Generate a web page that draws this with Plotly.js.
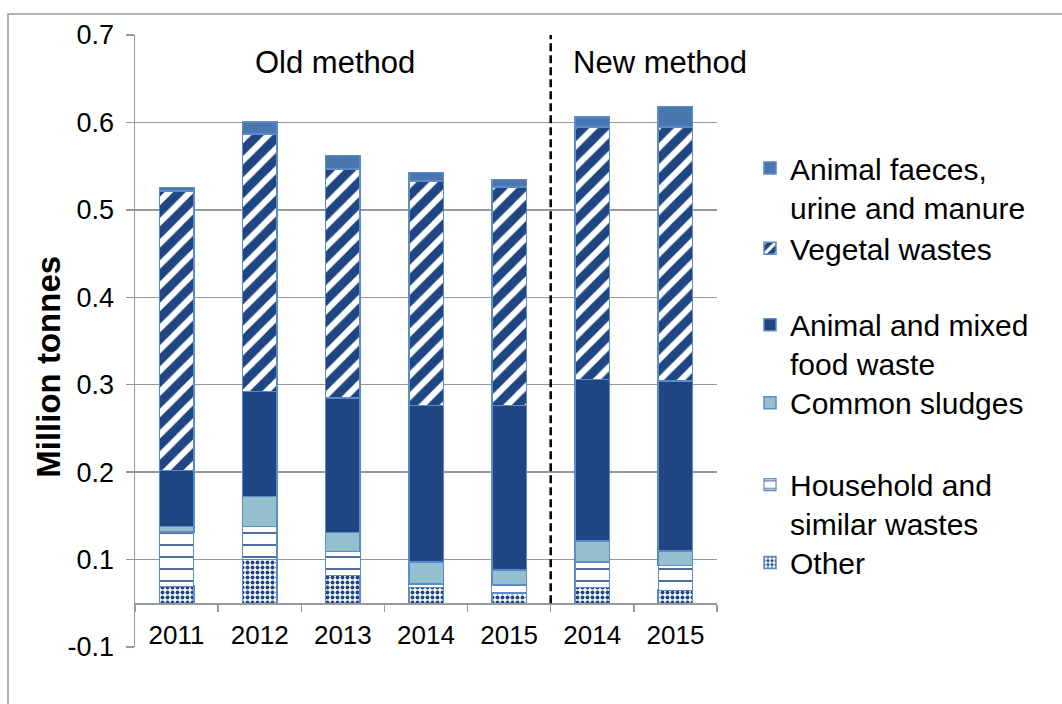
<!DOCTYPE html>
<html>
<head>
<meta charset="utf-8">
<script src="https://cdn.plot.ly/plotly-3.0.1.min.js"></script>
<style>
  html, body { margin: 0; padding: 0; background: #ffffff; }
  #chart { width: 1062px; height: 704px; }
</style>
</head>
<body>
<div id="chart"></div>
<script>
// ---- Data (million tonnes, segment heights from the category axis) ----
const yearLabels = ['2011', '2012', '2013', '2014', '2015', '2014', '2015'];
const methodGroups = ['Old method', 'Old method', 'Old method', 'Old method', 'Old method', 'New method', 'New method'];

const other       = [0.0195, 0.050, 0.032, 0.018, 0.012, 0.018, 0.015];
const household   = [0.062, 0.038, 0.027, 0.004, 0.009, 0.029, 0.028];
const sludges     = [0.0063, 0.034, 0.022, 0.025, 0.017, 0.024, 0.017];
const animalMixed = [0.064, 0.120, 0.154, 0.179, 0.188, 0.185, 0.194];
const vegetal     = [0.320, 0.295, 0.262, 0.257, 0.250, 0.289, 0.291];
const faeces      = [0.004, 0.0135, 0.015, 0.010, 0.009, 0.011, 0.023];

const seriesNames = [
  'Other',
  'Household and<br>similar wastes',
  'Common sludges',
  'Animal and mixed<br>food waste',
  'Vegetal wastes',
  'Animal faeces,<br>urine and manure'
];

const yTickLabels = ['-0.1', '0.1', '0.2', '0.3', '0.4', '0.5', '0.6', '0.7'];
const yTitle = 'Million tonnes';

// ---- Layout helpers ----
const W = 1062, H = 704;
const M = { l: 135, r: 345, t: 35, b: 56.5 };
const plotH = H - M.t - M.b;
const plotW = W - M.l - M.r;
const pyToPaper = py => (H - M.b - py) / plotH;
const pxToPaper = px => (px - M.l) / plotW;

const categories = yearLabels.map((y, i) => methodGroups[i] + ' ' + y);
const yTickVals = yTickLabels.map((_, i) => -0.05 + 0.1 * i);

const NAVY = '#1f4682';
const EDGE = '#5b8bc8';
const FONT = 'Arial, "Liberation Sans", sans-serif';

function barTrace(idx, values, marker, legendId) {
  return {
    type: 'bar',
    name: seriesNames[idx],
    x: categories,
    y: values,
    marker: marker,
    legend: legendId,
    hoverinfo: 'skip'
  };
}

const traces = [
  barTrace(0, other, {
    color: NAVY,
    line: { color: EDGE, width: 1.5 },
    pattern: { shape: '.', size: 5, solidity: 0.5, fgcolor: NAVY, bgcolor: '#ffffff', fillmode: 'replace' }
  }, 'legend6'),
  barTrace(1, household, {
    color: NAVY,
    line: { color: EDGE, width: 1.2 },
    pattern: { shape: '-', size: 12, solidity: 0.13, fgcolor: NAVY, bgcolor: '#ffffff', fillmode: 'replace' }
  }, 'legend5'),
  barTrace(2, sludges, {
    color: '#93bfcf',
    line: { color: EDGE, width: 1.5 }
  }, 'legend4'),
  barTrace(3, animalMixed, {
    color: NAVY,
    line: { color: EDGE, width: 1.5 }
  }, 'legend3'),
  barTrace(4, vegetal, {
    color: NAVY,
    line: { color: EDGE, width: 1.5 },
    pattern: { shape: '/', size: 15, solidity: 0.4, fgcolor: '#ffffff', bgcolor: NAVY, fillmode: 'replace' }
  }, 'legend2'),
  barTrace(5, faeces, {
    color: '#4a77b0',
    line: { color: EDGE, width: 1.5 }
  }, 'legend')
];

// symbol centre targets (px) for each legend item
const legendCentres = { legend: 168, legend2: 248.5, legend3: 325, legend4: 403, legend5: 485, legend6: 563 };
function legendBox(centrePx) {
  return {
    x: pxToPaper(750), xanchor: 'left',
    y: pyToPaper(centrePx - 26), yanchor: 'top',
    bgcolor: 'rgba(0,0,0,0)', borderwidth: 0,
    font: { family: FONT, size: 30, color: '#000' },
    valign: 'top',
    traceorder: 'normal'
  };
}

const layout = {
  width: W, height: H,
  margin: M,
  paper_bgcolor: '#ffffff',
  plot_bgcolor: 'rgba(0,0,0,0)',
  barmode: 'stack',
  bargap: 0.585,
  showlegend: true,
  font: { family: FONT, color: '#000' },
  xaxis: {
    type: 'category',
    categoryorder: 'array',
    categoryarray: categories,
    tickmode: 'array',
    tickvals: categories,
    ticktext: yearLabels,
    range: [-0.5, 6.5],
    anchor: 'free',
    position: pyToPaper(H - M.b - 0.05 * plotH / 0.7),
    showline: true, linecolor: '#999', linewidth: 1.5,
    ticks: 'outside', tickson: 'boundaries', ticklen: 7, tickcolor: '#999', tickwidth: 1.5,
    showgrid: false, zeroline: false,
    ticklabelstandoff: 8,
    tickfont: { family: FONT, size: 26, color: '#000' },
    fixedrange: true
  },
  yaxis: {
    range: [-0.05, 0.65],
    tickmode: 'array',
    tickvals: yTickVals,
    ticktext: yTickLabels,
    showline: true, linecolor: '#999', linewidth: 1.5,
    ticks: 'outside', ticklen: 8, tickcolor: '#999', tickwidth: 1.5,
    showgrid: true, gridcolor: '#999', gridwidth: 1.5,
    zeroline: false,
    ticklabelstandoff: 6,
    tickfont: { family: FONT, size: 27, color: '#000' },
    fixedrange: true
  },
  shapes: [
    { type: 'rect', xref: 'paper', yref: 'paper',
      x0: pxToPaper(8), x1: pxToPaper(1070), y0: pyToPaper(14), y1: pyToPaper(712),
      line: { color: '#9a9a9a', width: 1.5 }, fillcolor: 'rgba(0,0,0,0)', layer: 'below' },
    { type: 'line', xref: 'x', yref: 'y', x0: 4.5, x1: 4.5, y0: 0, y1: 0.65,
      line: { color: '#000', width: 2.5, dash: '8px,4px' } }
  ],
  annotations: [
    { text: 'Old method', xref: 'paper', yref: 'paper', x: pxToPaper(335), y: pyToPaper(63),
      xanchor: 'center', yanchor: 'middle', showarrow: false,
      font: { family: FONT, size: 31, color: '#000' } },
    { text: 'New method', xref: 'paper', yref: 'paper', x: pxToPaper(660), y: pyToPaper(63),
      xanchor: 'center', yanchor: 'middle', showarrow: false,
      font: { family: FONT, size: 31, color: '#000' } },
    { text: '<b>' + yTitle + '</b>', xref: 'paper', yref: 'paper', x: pxToPaper(49), y: pyToPaper(367),
      xanchor: 'center', yanchor: 'middle', textangle: -90, showarrow: false,
      font: { family: FONT, size: 33, color: '#000' } }
  ],
  legend: legendBox(legendCentres.legend),
  legend2: legendBox(legendCentres.legend2),
  legend3: legendBox(legendCentres.legend3),
  legend4: legendBox(legendCentres.legend4),
  legend5: legendBox(legendCentres.legend5),
  legend6: legendBox(legendCentres.legend6)
};

Plotly.newPlot('chart', traces, layout, { displayModeBar: false, staticPlot: true });
</script>
</body>
</html>
